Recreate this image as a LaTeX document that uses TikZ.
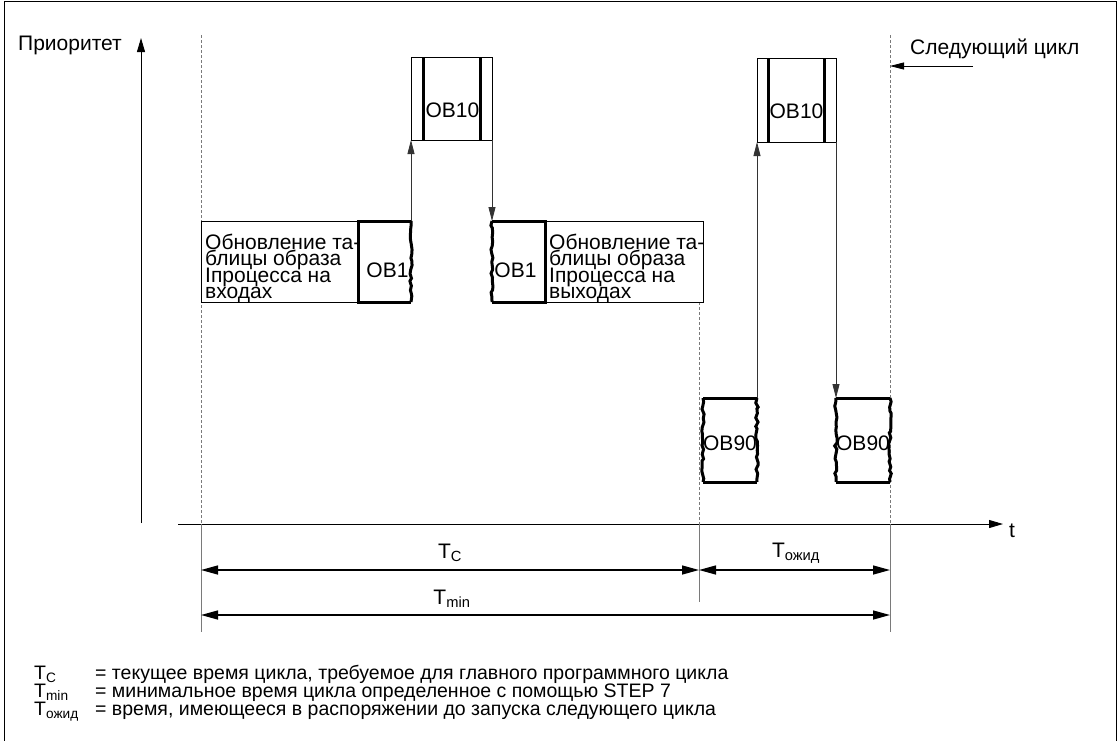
\documentclass[tikz,border=0pt]{standalone}
\usepackage{fontspec}
\setmainfont{Liberation Sans}
\usetikzlibrary{positioning, arrows.meta, calc, decorations.pathmorphing}
\definecolor{guidegray}{HTML}{7A7A7A}
\newcommand{\tsub}[1]{T\textsubscript{#1}}
\newcommand{\boxfont}{\fontsize{21}{16.3}\selectfont\lineskiplimit-30pt\lineskip0pt\relax}

\tikzset{
  axis/.style={-{Triangle[length=14pt,width=8pt]}, line width=0.9pt},
  jump/.style={-{Triangle[length=14pt,width=7pt]}, line width=0.8pt, draw=black!80},
  dim/.style={{Triangle[length=17pt,width=9pt]}-{Triangle[length=17pt,width=9pt]}, line width=1.4pt},
  guide/.style={draw=guidegray, line width=0.8pt, dash pattern=on 3pt off 2pt},
  ext/.style={draw=guidegray, line width=0.8pt},
  slot/.style={inner sep=0pt, outer sep=0pt, anchor=north west},
  thinbox/.style={slot, draw, line width=0.8pt},
  heavy/.style={line width=3pt},
  torn/.style={line width=3pt, decorate,
    decoration={random steps, segment length=4pt, amplitude=1.3pt}},
  oblabel/.style={inner sep=0pt},
  imgtext/.style={inner sep=0pt, anchor=north west, align=left, font=\boxfont},
  legend/.style={inner sep=0pt, anchor=base west, font=\fontsize{19.5}{18}\selectfont}
}

\begin{document}
\begin{tikzpicture}[x=1pt, y=-1pt, font=\fontsize{21}{16}\selectfont]
  \pgfmathsetseed{11}
  \useasboundingbox (0,0) rectangle (1117,740);
  \draw[line width=0.8pt] (4,741) -- (4,1) -- (1116,1) -- (1116,741);

  % axes
  \coordinate (yfoot) at (141,523);
  \coordinate (ytip) at (141,38);
  \coordinate (xfoot) at (178,524);
  \coordinate (xtip) at (1003,524);
  \draw[axis] (yfoot) -- (ytip);
  \draw[axis] (xfoot) -- (xtip);
  \node[anchor=west, inner sep=0pt] (prio) at (18,45) {Приоритет};
  \node[anchor=west, inner sep=0pt] (tname) at (1009,531) {t};

  % guide lines
  \coordinate (gl) at (201,35);
  \coordinate (gr) at (890,35);
  \draw[guide] (gl) -- (201,524);
  \draw[guide] (gr) -- (890,524);
  \draw[guide] (699,302) -- (699,524);
  \draw[ext] (201,524) -- (201,632);
  \draw[ext] (890,524) -- (890,632);
  \draw[ext] (699,524) -- (699,602);

  % process image boxes
  \node[thinbox, minimum width=157pt, minimum height=81pt] (inbox) at (201,221) {};
  \node[imgtext] (intext) at (205,234)
    {Обновление та-\\блицы образа\\Iпроцесса на\\входах};
  \node[thinbox, minimum width=158pt, minimum height=81pt] (outbox) at (545,221) {};
  \node[imgtext] (outtext) at (549,234)
    {Обновление та-\\блицы образа\\Iпроцесса на\\выходах};

  % OB1
  \node[slot, minimum width=53pt, minimum height=81pt] (obA) at (358,221) {};
  \draw[heavy] (obA.north east) -- (obA.north west) -- (obA.south west) -- (obA.south east);
  \draw[torn] (obA.north east) -- (obA.south east);
  \node[oblabel] (obAt) at ($(obA.center)+(3,9)$) {OB1};

  \node[slot, minimum width=53pt, minimum height=81pt] (obB) at (492,221) {};
  \draw[heavy] (obB.north west) -- (obB.north east) -- (obB.south east) -- (obB.south west);
  \draw[torn] (obB.north west) -- (obB.south west);
  \node[oblabel] (obBt) at ($(obB.center)+(-3,9)$) {OB1};

  % OB10
  \node[thinbox, minimum width=81pt, minimum height=83pt] (tenA) at (411,57) {};
  \draw[heavy] ($(tenA.north west)+(12,0)$) -- ($(tenA.south west)+(12,0)$);
  \draw[heavy] ($(tenA.north east)+(-12,0)$) -- ($(tenA.south east)+(-12,0)$);
  \node[oblabel] (tenAt) at ($(tenA.center)+(1,12)$) {OB10};

  \node[thinbox, minimum width=79pt, minimum height=84pt] (tenB) at (757,58) {};
  \draw[heavy] ($(tenB.north west)+(11,0)$) -- ($(tenB.south west)+(11,0)$);
  \draw[heavy] ($(tenB.north east)+(-12,0)$) -- ($(tenB.south east)+(-12,0)$);
  \node[oblabel] (tenBt) at ($(tenB.center)+(0,11)$) {OB10};

  % OB90
  \node[slot, minimum width=54pt, minimum height=84pt] (ninA) at (703,398) {};
  \draw[heavy] (ninA.north west) -- (ninA.north east);
  \draw[heavy] (ninA.south west) -- (ninA.south east);
  \draw[torn] (ninA.north west) -- (ninA.south west);
  \draw[torn] (ninA.north east) -- (ninA.south east);
  \node[oblabel] (ninAt) at ($(ninA.center)+(0,3)$) {OB90};

  \node[slot, minimum width=54pt, minimum height=84pt] (ninB) at (836,398) {};
  \draw[heavy] (ninB.north west) -- (ninB.north east);
  \draw[heavy] (ninB.south west) -- (ninB.south east);
  \draw[torn] (ninB.north west) -- (ninB.south west);
  \draw[torn] (ninB.north east) -- (ninB.south east);
  \node[oblabel] (ninBt) at ($(ninB.center)+(0,3)$) {OB90};

  % interrupts
  \draw[jump] (obA.north east) -- (tenA.south west);
  \draw[jump] (tenA.south east) -- (obB.north west);
  \draw[jump] (ninA.north east) -- (tenB.south west);
  \draw[jump] (tenB.south east) -- (ninB.north west);

  % next cycle
  \coordinate (nextfrom) at (973,66);
  \coordinate (nextto) at (890,66);
  \draw[jump, draw=black] (nextfrom) -- (nextto);
  \node[anchor=west, inner sep=0pt] (nextname) at (910,49) {Следующий цикл};

  % times
  \coordinate (tcL) at (201,570);
  \coordinate (tcR) at (699,570);
  \coordinate (twR) at (890,570);
  \coordinate (tmL) at (201,615);
  \coordinate (tmR) at (890,615);
  \draw[dim] (tcL) -- (tcR);
  \draw[dim] (tcR) -- (twR);
  \draw[dim] (tmL) -- (tmR);
  \node[inner sep=0pt] (tcname) at (450,553) {\tsub{C}};
  \node[inner sep=0pt] (twname) at (796,553) {\tsub{ожид}};
  \node[inner sep=0pt] (tmname) at (452,599) {\tsub{min}};

  % legend
  \node[legend] (l1) at (34,679) {\tsub{C}};
  \node[legend] (l2) at (34,697) {\tsub{min}};
  \node[legend] (l3) at (34,715) {\tsub{ожид}};
  \node[legend] (d1) at (95,679) {= текущее время цикла, требуемое для главного программного цикла};
  \node[legend] (d2) at (95,697) {= минимальное время цикла определенное с помощью STEP 7};
  \node[legend] (d3) at (95,715) {= время, имеющееся в распоряжении до запуска следующего цикла};
\end{tikzpicture}
\end{document}
